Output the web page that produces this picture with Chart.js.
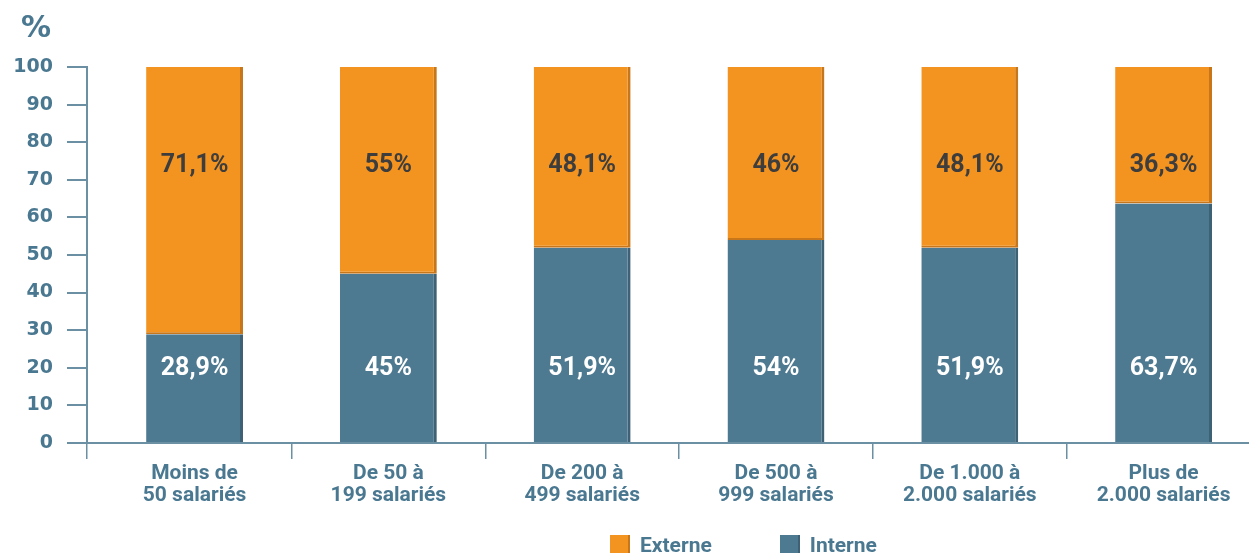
<!DOCTYPE html>
<html>
<head>
<meta charset="utf-8">
<script src="https://cdn.jsdelivr.net/npm/chart.js@4/dist/chart.umd.min.js"></script>
<style>
    html, body { margin: 0; padding: 0; background: #fff; overflow: hidden; }
    #wrap { position: relative; width: 1265px; height: 553px; }
    #legende {
        position: absolute; top: 533px; left: 610px;
        display: flex; gap: 68px;
        font: bold 21px Roboto, sans-serif; color: #4a7891;
    }
    #legende span.item { display: flex; align-items: center; gap: 10px; }
    #legende span.box { width: 20px; height: 20px; display: inline-block; box-sizing: border-box; }
</style>
</head>
<body>
<div id="wrap">
    <canvas id="graphique" width="1265" height="553"></canvas>
    <div id="legende"></div>
</div>
<script>
// Catégories (taille d'entreprise)
const categories = [
    ['Moins de', '50 salariés'],
    ['De 50 à', '199 salariés'],
    ['De 200 à', '499 salariés'],
    ['De 500 à', '999 salariés'],
    ['De 1.000 à', '2.000 salariés'],
    ['Plus de', '2.000 salariés']
];

// Valeurs en %
const interne = [28.9, 45, 51.9, 54, 51.9, 63.7];
const externe = [71.1, 55, 48.1, 46, 48.1, 36.3];

// Étiquettes affichées
const etiquettesInterne = ['28,9%', '45%', '51,9%', '54%', '51,9%', '63,7%'];
const etiquettesExterne = ['71,1%', '55%', '48,1%', '46%', '48,1%', '36,3%'];

const ticksY = [0, 10, 20, 30, 40, 50, 60, 70, 80, 90, 100];

const BLEU = '#4e7a91';
const ORANGE = '#f39320';
const TEXTE = '#4a7891';
const AXE = '#6b90a4';

// bornes de l'axe x (position des catégories 0..5)
const X_MIN = -0.555;
const X_MAX = 5.513;

/**
 * Dessine les pourcentages dans les barres et le symbole %
 */
const etiquettesPlugin = {
    id: 'etiquettes',
    afterDatasetsDraw(chart) {
        const ctx = chart.ctx;
        const x = chart.scales.x;
        const y = chart.scales.y;
        ctx.save();
        ctx.textAlign = 'center';
        ctx.textBaseline = 'middle';
        ctx.font = 'bold 25px Roboto, sans-serif';
        categories.forEach((c, i) => {
            const cx = x.getPixelForValue(i);
            ctx.fillStyle = '#3d3d3d';
            ctx.fillText(etiquettesExterne[i], cx, y.getPixelForValue(73.8));
            ctx.fillStyle = '#ffffff';
            ctx.fillText(etiquettesInterne[i], cx, y.getPixelForValue(19.7));
        });
        // symbole % en haut à gauche
        ctx.fillStyle = TEXTE;
        ctx.textAlign = 'left';
        ctx.font = 'bold 30px "DejaVu Sans", sans-serif';
        ctx.fillText('%', 21, 29);
        ctx.restore();
    }
};

const datasets = [
    {
        label: 'Interne',
        data: interne.map((v, i) => ({ x: i, y: v })),
        backgroundColor: BLEU,
        borderColor: '#3f6175',
        borderWidth: { right: 3, left: 0, top: 0, bottom: 0 }
    },
    {
        label: 'Externe',
        data: externe.map((v, i) => ({ x: i, y: v })),
        backgroundColor: ORANGE,
        borderColor: '#c8761a',
        borderWidth: { right: 3, bottom: 2, left: 0, top: 0 }
    }
];

new Chart(document.getElementById('graphique'), {
    type: 'bar',
    data: { datasets: datasets },
    plugins: [etiquettesPlugin],
    options: {
        responsive: false,
        animation: false,
        layout: { padding: { top: 67, right: 2, bottom: 42, left: 0 } },
        datasets: { bar: { barPercentage: 0.5, categoryPercentage: 1.0, borderSkipped: false } },
        plugins: { legend: { display: false }, tooltip: { enabled: false } },
        scales: {
            // axe des étiquettes de catégories
            x: {
                type: 'linear',
                position: 'bottom',
                weight: 1,
                stacked: true,
                offset: false,
                min: X_MIN, max: X_MAX,
                afterBuildTicks(scale) { scale.ticks = categories.map((c, i) => ({ value: i })); },
                border: { display: false },
                grid: { display: false, drawTicks: false, offset: false },
                ticks: {
                    color: TEXTE, padding: 4, autoSkip: false, maxRotation: 0,
                    callback: (v) => categories[v],
                    font: { family: 'Roboto, sans-serif', size: 21, weight: 'bold', lineHeight: 1.05 }
                }
            },
            // axe des séparateurs entre catégories
            xSep: {
                type: 'linear',
                position: 'bottom',
                weight: 0,
                offset: false,
                min: X_MIN, max: X_MAX,
                afterBuildTicks(scale) {
                    scale.ticks = [X_MIN, 0.5, 1.5, 2.5, 3.5, 4.5].map(v => ({ value: v }));
                },
                border: { color: AXE, width: 2 },
                grid: { drawOnChartArea: false, offset: false, tickLength: 16, color: AXE, lineWidth: 1.5 },
                ticks: { display: false }
            },
            y: {
                stacked: true,
                min: 0, max: 100,
                afterBuildTicks(scale) { scale.ticks = ticksY.map(v => ({ value: v })); },
                afterFit(scale) { scale.width = 87; },
                border: { color: AXE, width: 2 },
                grid: { drawOnChartArea: false, tickLength: 20, color: AXE, lineWidth: 2 },
                ticks: {
                    color: TEXTE, padding: 14,
                    font: { family: '"DejaVu Sans", sans-serif', size: 19, weight: 'bold' }
                }
            }
        }
    }
});

// Légende HTML (Externe puis Interne)
const legende = document.getElementById('legende');
[datasets[1], datasets[0]].forEach(ds => {
    const item = document.createElement('span');
    item.className = 'item';
    item.innerHTML = `<span class="box" style="background:${ds.backgroundColor};border-right:2px solid ${ds.borderColor};border-bottom:2px solid ${ds.borderColor}"></span>${ds.label}`;
    legende.appendChild(item);
});
</script>
</body>
</html>
